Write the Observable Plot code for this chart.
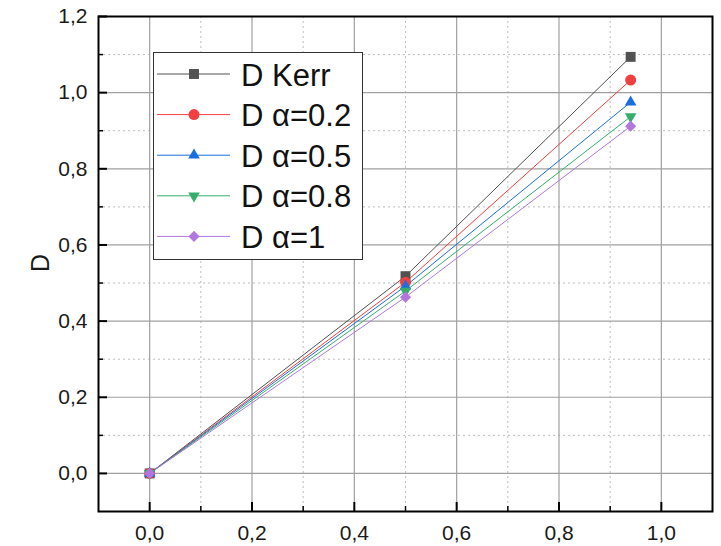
<!DOCTYPE html>
<html><head><meta charset="utf-8">
<script src="https://cdn.jsdelivr.net/npm/d3@7"></script>
<script src="https://cdn.jsdelivr.net/npm/@observablehq/plot@0.6"></script>
<style>
body{margin:0;background:#fff}
#wrap{position:relative;width:721px;height:546px;font-family:"Liberation Sans",Arial,sans-serif}
#legend{position:absolute;left:0;top:0}
</style>
</head><body><div id="wrap"></div>
<script>
// ---- data ----
const xValues = [0, 0.5, 0.94];
const seriesNames = ["D Kerr", "D α=0.2", "D α=0.5", "D α=0.8", "D α=1"];
const dKerr = [0, 0.518, 1.094];
const dAlpha02 = [0, 0.502, 1.033];
const dAlpha05 = [0, 0.492, 0.975];
const dAlpha08 = [0, 0.479, 0.937];
const dAlpha1 = [0, 0.463, 0.912];
const seriesColors = ["#515151", "#F14040", "#1A6FDF", "#37AD6B", "#B177DE"];
const xMajorTicks = [0, 0.2, 0.4, 0.6, 0.8, 1.0];
const xMinorTicks = [0.1, 0.3, 0.5, 0.7, 0.9];
const yMajorTicks = [0, 0.2, 0.4, 0.6, 0.8, 1.0, 1.2];
const yMinorTicks = [0.1, 0.3, 0.5, 0.7, 0.9, 1.1];
const yLabel = "D";

// ---- layout ----
const W = 721, H = 546;
const mL = 98, mR = 9, mT = 16, mB = 35;
const plotW = W - mL - mR, plotH = H - mT - mB;

const triDown = {
  draw(ctx, size) {
    const y = -Math.sqrt(size / (3 * Math.sqrt(3)));
    ctx.moveTo(0, -2 * y);
    ctx.lineTo(-Math.sqrt(3) * y, y);
    ctx.lineTo(Math.sqrt(3) * y, y);
    ctx.closePath();
  }
};
const symbols = ["square", "circle", "triangle", triDown, "diamond2"];
const radii = [5.6, 5.5, 4.3, 4.3, 5.0];
const d3Symbols = [d3.symbolSquare, d3.symbolCircle, d3.symbolTriangle, triDown, d3.symbolDiamond2];

const seriesValues = [dKerr, dAlpha02, dAlpha05, dAlpha08, dAlpha1];
const series = seriesNames.map((name, i) => ({
  name, color: seriesColors[i], symbol: symbols[i], r: radii[i],
  rows: xValues.map((x, j) => ({x, y: seriesValues[i][j]}))
}));

const fmt = d => d.toFixed(1).replace(".", ",");

const marks = [
  // minor grid (dotted)
  Plot.gridX(xMinorTicks, {stroke: "#bdbdbd", strokeOpacity: 1, strokeWidth: 1, strokeDasharray: "2,3"}),
  Plot.gridY(yMinorTicks, {stroke: "#bdbdbd", strokeOpacity: 1, strokeWidth: 1, strokeDasharray: "2,3"}),
  // major grid
  Plot.gridX(xMajorTicks, {stroke: "#a0a0a0", strokeOpacity: 1, strokeWidth: 1.2}),
  Plot.gridY(yMajorTicks, {stroke: "#a0a0a0", strokeOpacity: 1, strokeWidth: 1.2}),
  // inward ticks
  Plot.tickX(xMajorTicks, {x: d => d, insetTop: plotH - 9, stroke: "#000", strokeWidth: 2}),
  Plot.tickX(xMinorTicks, {x: d => d, insetTop: plotH - 5, stroke: "#000", strokeWidth: 1.5}),
  Plot.tickY(yMajorTicks, {y: d => d, insetRight: plotW - 9, stroke: "#000", strokeWidth: 2}),
  Plot.tickY(yMinorTicks, {y: d => d, insetRight: plotW - 5, stroke: "#000", strokeWidth: 1.5}),
  // axes labels
  Plot.axisX(xMajorTicks, {tickSize: 0, tickPadding: 14, tickFormat: fmt, fontSize: 21, fill: "#1a1a1a", label: null}),
  Plot.axisY(yMajorTicks, {tickSize: 0, tickPadding: 11, tickFormat: fmt, fontSize: 21, fill: "#1a1a1a", label: null}),
  Plot.text([yLabel], {frameAnchor: "left", dx: -58, dy: 8, rotate: -90, fontSize: 25, fill: "#1a1a1a", text: d => d}),
];
for (const s of series) {
  marks.push(Plot.line(s.rows, {x: "x", y: "y", stroke: s.color, strokeWidth: 1}));
}
for (const s of series) {
  marks.push(Plot.dot(s.rows, {x: "x", y: "y", fill: s.color, stroke: "none", symbol: s.symbol, r: s.r}));
}
marks.push(Plot.frame({stroke: "#000", strokeWidth: 2}));

const chart = Plot.plot({
  width: W, height: H,
  marginLeft: mL, marginRight: mR, marginTop: mT, marginBottom: mB,
  x: {domain: [-0.1, 1.1], axis: null, label: null},
  y: {domain: [-0.1, 1.2], axis: null, label: null},
  style: {fontFamily: "'Liberation Sans', Arial, sans-serif", background: "#fff", overflow: "visible"},
  marks
});
const wrap = document.getElementById("wrap");
wrap.appendChild(chart);

// ---- legend overlay ----
const lg = d3.select(wrap).append("svg").attr("id", "legend")
  .attr("width", W).attr("height", H);
const box = {x: 153, y: 52, w: 209, h: 207};
lg.append("rect").attr("x", box.x + 0.5).attr("y", box.y + 0.5).attr("width", box.w).attr("height", box.h)
  .attr("fill", "#fff").attr("stroke", "#333").attr("stroke-width", 1);
series.forEach((s, i) => {
  const cy = 74 + i * 40.6;
  lg.append("line").attr("x1", 157).attr("x2", 230).attr("y1", cy).attr("y2", cy)
    .attr("stroke", s.color).attr("stroke-width", 1);
  lg.append("path").attr("transform", `translate(194,${cy})`)
    .attr("d", d3.symbol(d3Symbols[i], Math.PI * s.r * s.r)())
    .attr("fill", s.color);
  lg.append("text").attr("x", 241).attr("y", cy + 11.5)
    .attr("font-size", 31).attr("fill", "#111")
    .attr("font-family", "'Liberation Sans', Arial, sans-serif")
    .text(s.name);
});
</script>
</body></html>
